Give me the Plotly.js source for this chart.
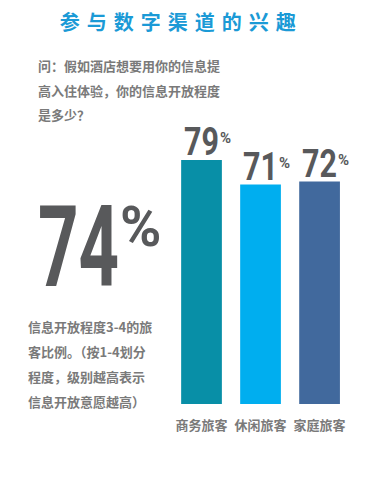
<!DOCTYPE html>
<html>
<head>
<meta charset="utf-8">
<script src="https://cdn.plot.ly/plotly-3.0.1.min.js"></script>
<style>
  html, body { margin: 0; padding: 0; background: #fff; }
  #chart { width: 370px; height: 487px; }
</style>
</head>
<body>
<div id="chart"></div>
<script>
// ---- data ----
var categories = ['商务旅客', '休闲旅客', '家庭旅客'];
var values = [79, 71, 72];
var barColors = ['#088fa7', '#00aeef', '#41699d'];
var overallValue = 74;
var percentSign = '%';
var titleText = '参与数字渠道的兴趣';
var questionLines = ['问：假如酒店想要用你的信息提', '高入住体验，你的信息开放程度', '是多少？'];
var noteLines = ['信息开放程度3-4的旅', '客比例。（按1-4划分', '程度，级别越高表示', '信息开放意愿越高）'];

// ---- layout helpers ----
var W = 370, H = 487;
var M = {l: 172, r: 20, t: 95, b: 83};
var PW = W - M.l - M.r, PH = H - M.t - M.b;
function px2x(px) { return (px - M.l) / PW; }
function px2y(py) { return (H - M.b - py) / PH; }

var CJK = '"Noto Sans CJK SC", "Noto Sans", sans-serif';
var NUM = 'Roboto, "Liberation Sans", sans-serif';
var GRAY = '#7a7a7a';
var DARK = '#58595b';

var canvas = document.createElement('canvas');
var ctx = canvas.getContext('2d');
ctx.textAlign = 'center';
function measure(text, size) {
  ctx.font = 'bold ' + size + 'px Roboto';
  var m = ctx.measureText(text);
  return {ink: m.actualBoundingBoxRight, half: m.width / 2};
}

var annotations = [];
var stretch = []; // [annotation index, scaleY]

var qY = [65, 90, 114];
questionLines.forEach(function (t, i) {
  annotations.push({
    xref: 'paper', yref: 'paper', x: px2x(36), y: px2y(qY[i]),
    xanchor: 'left', yanchor: 'middle', showarrow: false, align: 'left',
    text: t, font: {family: CJK, size: 13, color: GRAY, weight: 'bold'}
  });
});
var nY = [326, 351, 376, 401];
noteLines.forEach(function (t, i) {
  annotations.push({
    xref: 'paper', yref: 'paper', x: px2x(26), y: px2y(nY[i]),
    xanchor: 'left', yanchor: 'middle', showarrow: false, align: 'left',
    text: t, font: {family: CJK, size: 13, color: GRAY, weight: 'bold'}
  });
});

// big overall number (narrow glyphs: smaller font stretched vertically)
var BIG = 70.7, BIGY = 1.613;
stretch.push([annotations.length, BIGY]);
annotations.push({
  xref: 'paper', yref: 'paper', x: px2x(78.5), y: px2y(246.5),
  xanchor: 'center', yanchor: 'middle', showarrow: false,
  text: String(overallValue),
  font: {family: NUM, size: BIG, color: DARK, weight: 'bold'}
});
annotations.push({
  xref: 'paper', yref: 'paper', x: px2x(78.5), y: px2y(227),
  xanchor: 'left', yanchor: 'middle', showarrow: false, borderpad: 0,
  xshift: measure(String(overallValue), BIG).half,
  text: percentSign,
  font: {family: NUM, size: 56, color: DARK, weight: 'bold'}
});

// bar value labels
var VAL = 30.4, VALY = 1.25;
categories.forEach(function (c, i) {
  stretch.push([annotations.length, VALY]);
  annotations.push({
    xref: 'x', yref: 'y', x: c, y: values[i],
    xanchor: 'center', yanchor: 'middle', yshift: 18.5, showarrow: false,
    text: String(values[i]),
    font: {family: NUM, size: VAL, color: DARK, weight: 'bold'}
  });
  annotations.push({
    xref: 'x', yref: 'y', x: c, y: values[i],
    xanchor: 'left', yanchor: 'middle', yshift: 21.5, borderpad: 0,
    xshift: measure(String(values[i]), VAL).half,
    showarrow: false,
    text: percentSign,
    font: {family: NUM, size: 15, color: DARK, weight: 'bold'}
  });
});

var trace = {
  type: 'bar',
  x: categories,
  y: values,
  marker: {color: barColors},
  hoverinfo: 'none'
};

var layout = {
  width: W, height: H,
  margin: M,
  paper_bgcolor: '#ffffff',
  plot_bgcolor: '#ffffff',
  showlegend: false,
  bargap: 0.31,
  title: {
    text: '<span style="letter-spacing:7px">' + titleText + '</span>',
    x: 0.49, xanchor: 'center', xref: 'container',
    y: 1 - 23 / H, yanchor: 'middle', yref: 'container',
    font: {family: CJK, size: 20, color: '#1b9ad6', weight: 'bold'}
  },
  xaxis: {
    type: 'category',
    showgrid: false, zeroline: false, showline: false,
    ticks: 'outside', ticklen: 9, tickcolor: 'rgba(0,0,0,0)',
    tickfont: {family: CJK, size: 13, color: GRAY, weight: 'bold'},
    fixedrange: true
  },
  yaxis: {
    range: [0, 100],
    visible: false,
    showgrid: false, zeroline: false,
    fixedrange: true
  },
  annotations: annotations
};

Plotly.newPlot('chart', [trace], layout, {displayModeBar: false, staticPlot: true}).then(function () {
  stretch.forEach(function (p) {
    var t = document.querySelector('g.annotation[data-index="' + p[0] + '"] text.annotation-text');
    if (t) {
      t.style.transformBox = 'fill-box';
      t.style.transformOrigin = 'center';
      t.style.transform = 'scaleY(' + p[1] + ')';
    }
  });
});
</script>
</body>
</html>
